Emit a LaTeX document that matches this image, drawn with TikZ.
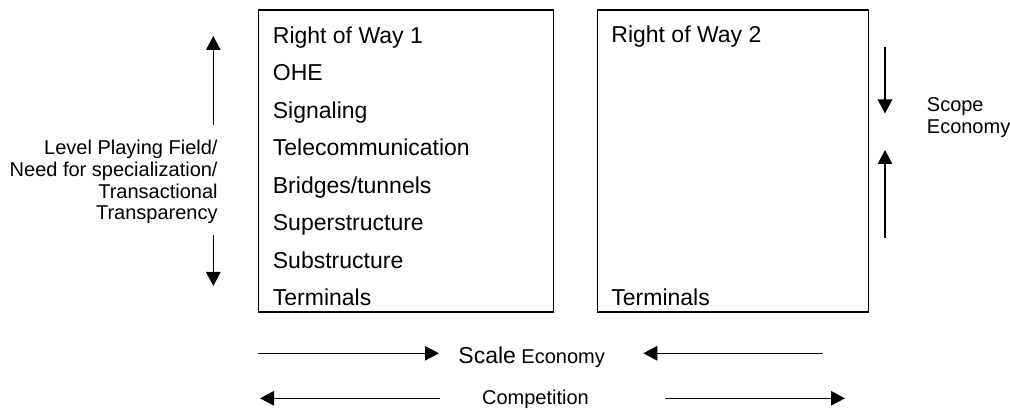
\documentclass[tikz,border=0pt]{standalone}
\usepackage{fontspec}
\setmainfont{Liberation Sans}
\usetikzlibrary{arrows.meta}
\begin{document}
\begin{tikzpicture}[x=0.5pt,y=-0.5pt,
  box/.style={draw, line width=0.65pt, inner sep=0, anchor=north west},
  item/.style={anchor=base west, inner sep=0, font=\fontsize{11.5}{13}\selectfont},
  side/.style={inner sep=0, font=\fontsize{10}{10.9}\selectfont},
  arr/.style={-{Triangle[length=7pt,width=7.2pt]}, line width=0.75pt}]
\useasboundingbox (0,0) rectangle (1010,410);
% boxes
\node[box, minimum width=147.25pt, minimum height=151pt] (row1) at (258,9.5) {};
\node[box, minimum width=135.5pt, minimum height=151pt] (row2) at (597,9.5) {};
% box 1 items
\node[item] (r1a) at (272.5,43.3) {Right of Way 1};
\node[item] (r1b) at (272.5,80.8) {OHE};
\node[item] (r1c) at (272.5,118.3) {Signaling};
\node[item] (r1d) at (272.5,155.8) {Telecommunication};
\node[item] (r1e) at (272.5,193.3) {Bridges/tunnels};
\node[item] (r1f) at (272.5,230.8) {Superstructure};
\node[item] (r1g) at (272.5,268.3) {Substructure};
\node[item] (r1h) at (272.5,305.8) {Terminals};
% box 2 items
\node[item] (r2a) at (611,43) {Right of Way 2};
\node[item] (r2h) at (611,305.5) {Terminals};
% left label and arrows
\node[side, align=right, anchor=base east] (lpf) at (218,220)
  {Level Playing Field/\\Need for specialization/\\Transactional\\Transparency};
\coordinate (lupS) at (213.3,125.5);
\coordinate (lupE) at (213.3,36);
\coordinate (ldnS) at (213.3,235);
\coordinate (ldnE) at (213.3,286);
\draw[arr] (lupS) -- (lupE);
\draw[arr] (ldnS) -- (ldnE);
% right label and arrows
\node[side, align=left, anchor=base west] (scope) at (926.5,133.5) {Scope\\Economy};
\coordinate (rdnS) at (885,46.7);
\coordinate (rdnE) at (885,113.5);
\coordinate (rupS) at (885,238.5);
\coordinate (rupE) at (885,150);
\draw[arr] (rdnS) -- (rdnE);
\draw[arr] (rupS) -- (rupE);
% bottom: scale economy
\node[anchor=base west, inner sep=0] (scale) at (458,363.3)
  {{\fontsize{11.5}{13}\selectfont Scale} {\fontsize{10}{11}\selectfont Economy}};
\coordinate (s1S) at (258.3,353.3);
\coordinate (s1E) at (439,353.3);
\coordinate (s2S) at (822.7,353.3);
\coordinate (s2E) at (643.3,353.3);
\draw[arr] (s1S) -- (s1E);
\draw[arr] (s2S) -- (s2E);
% bottom: competition
\node[side, anchor=base west] (comp) at (481.7,405) {Competition};
\coordinate (c1S) at (440,398.3);
\coordinate (c1E) at (260,398.3);
\coordinate (c2S) at (665,398.3);
\coordinate (c2E) at (845,398.3);
\draw[arr] (c1S) -- (c1E);
\draw[arr] (c2S) -- (c2E);
\end{tikzpicture}
\end{document}
